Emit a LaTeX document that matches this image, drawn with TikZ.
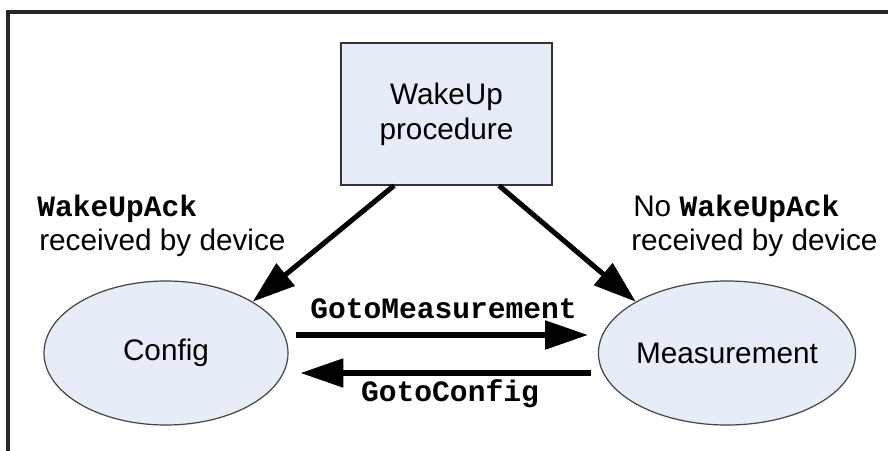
\documentclass[tikz,border=0pt]{standalone}
\usepackage{fontspec}
\setmainfont{Liberation Sans}
\newfontfamily\codefont{Liberation Mono}
\usetikzlibrary{arrows.meta,shapes.geometric}
\definecolor{fillblue}{HTML}{E6ECF8}
\definecolor{edgegray}{HTML}{555555}
\tikzset{
  statebox/.style={draw=edgegray!80!black, line width=0.9pt, fill=fillblue, ellipse,
    minimum width=183pt, minimum height=108pt, inner sep=0pt,
    font=\fontsize{22.3pt}{26pt}\selectfont},
  procbox/.style={draw=black!80, line width=0.9pt, fill=fillblue, rectangle,
    minimum width=158.25pt, minimum height=106.5pt, inner sep=0pt, align=center,
    font=\fontsize{22.3pt}{26.25pt}\selectfont},
  lbl/.style={inner sep=0pt, anchor=base west, font=\fontsize{22.3pt}{26pt}\selectfont},
  code/.style={inner sep=0pt, anchor=base, font=\fontsize{22.2pt}{26pt}\selectfont\codefont\bfseries},
  arr/.style={line width=3.8pt, -{Triangle[length=32pt,width=21pt]}},
  frame/.style={line width=2.3pt, black!85}
}
\begin{document}
\begin{tikzpicture}[x=0.75pt,y=-0.75pt]
\useasboundingbox (0,0) rectangle (888,450);
\draw[frame] (8,451) -- (8,12) -- (889,12);
\node[procbox] (proc) at (446.5,114) {WakeUp\\procedure};
\node[statebox] (config) at (166,353) {Config};
\node[statebox] (meas) at (727,353) {Measurement};
\draw[arr] ([xshift=-52.5*0.75pt]proc.south) -- (config.north east);
\draw[arr] ([xshift=52.5*0.75pt]proc.south) -- (meas.north west);
\draw[arr] ([shift={(7,-18)}]config.east) -- ([shift={(-10,-18)}]meas.west);
\draw[arr] ([shift={(-7,20)}]meas.west) -- ([shift={(12,20)}]config.east);
\node[code] (gm) at (443.5,318) {GotoMeasurement};
\node[code] (gc) at (450,401) {GotoConfig};
\node[lbl] (la) at (37,216) {\codefont\bfseries\fontsize{22.2pt}{26pt}\selectfont WakeUpAck};
\node[lbl] (lb) at (39,250) {received by device};
\node[lbl] (ra) at (633,216) {No \codefont\bfseries\fontsize{22.2pt}{26pt}\selectfont WakeUpAck};
\node[lbl] (rb) at (631,250) {received by device};
\end{tikzpicture}
\end{document}
